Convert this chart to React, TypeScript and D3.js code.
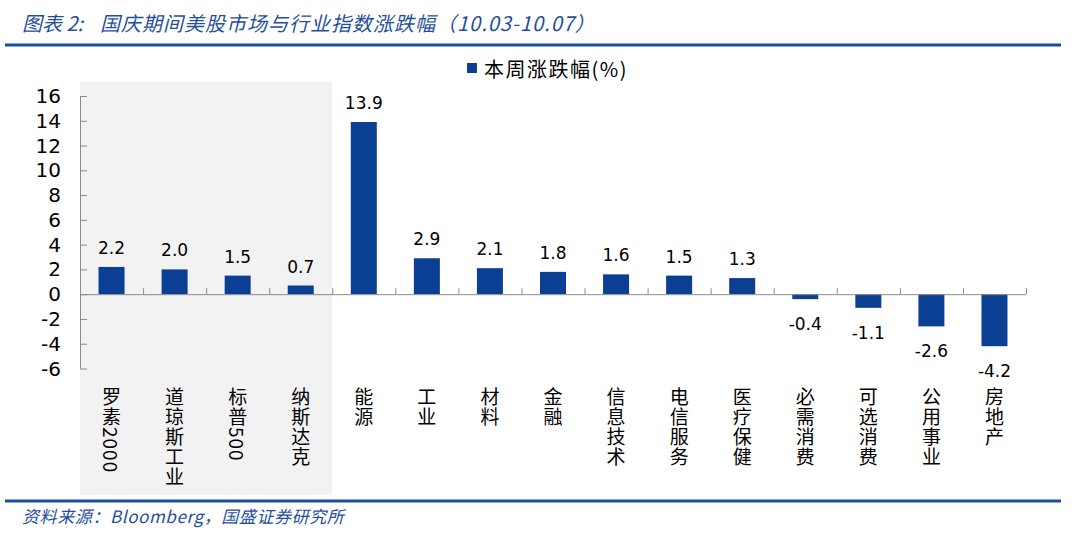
import React from "react";
import * as d3 from "d3";

const categories = ["罗素2000", "道琼斯工业", "标普500", "纳斯达克", "能源", "工业", "材料", "金融", "信息技术", "电信服务", "医疗保健", "必需消费", "可选消费", "公用事业", "房地产"];
const values = [2.2, 2.0, 1.5, 0.7, 13.9, 2.9, 2.1, 1.8, 1.6, 1.5, 1.3, -0.4, -1.1, -2.6, -4.2];
const yTicks = [16, 14, 12, 10, 8, 6, 4, 2, 0, -2, -4, -6];
const shadedCount = 4;
const seriesName = "本周涨跌幅(%)";
const titleHead = "图表 2:";
const titleBody = "国庆期间美股市场与行业指数涨跌幅（10.03-10.07）";
const source = "资料来源：Bloomberg，国盛证券研究所";

const W = 1080, H = 539;
const BLUE = "#0b3f94";
const NUM_FONT = "'DejaVu Sans', Verdana, sans-serif";
const CJK = "'Noto Sans CJK SC', sans-serif";

export default function App() {
  const x = d3.scaleBand<string>().domain(categories).range([80, 1026]).paddingInner(0).paddingOuter(0);
  const y = d3.scaleLinear().domain([-6, 16]).range([368.5, 96]);
  const bw = 26;
  const y0 = y(0);
  const bandStarts = categories.map((c) => x(c)!);
  return (
    <svg width={W} height={H} style={{ position: "absolute", left: 0, top: 0, background: "#fff" }}>
      {/* title */}
      <text x={22} y={31} fontFamily={CJK} fontSize={20} fontStyle="italic" fill="#1f4f9c">{titleHead}</text>
      <text x={100} y={31} fontFamily={CJK} fontSize={20} fontStyle="italic" fill="#1f4f9c" style={{ letterSpacing: "1px" }}>{titleBody}</text>
      <rect x={5} y={43.5} width={1056} height={3} fill="#1a4f9f" />
      {/* shaded area */}
      <rect x={80} y={82} width={x.bandwidth() * shadedCount} height={413} fill="#f2f2f2" />
      {/* legend */}
      <rect x={467} y={63} width={10} height={10} fill={BLUE} />
      <text x={484} y={77} fontFamily={CJK} fontSize={20} fill="#000" style={{ letterSpacing: "1.5px" }}>{seriesName}</text>
      {/* y axis */}
      <line x1={80.5} x2={80.5} y1={y(16)} y2={y(-6)} stroke="#8c8c8c" />
      {yTicks.map((t) => (
        <g key={t}>
          <line x1={80} x2={87} y1={y(t) + 0.5} y2={y(t) + 0.5} stroke="#8c8c8c" />
          <text x={61} y={y(t) + 7} textAnchor="end" fontFamily={NUM_FONT} fontSize={20} fill="#000">{t}</text>
        </g>
      ))}
      {/* bars */}
      {categories.map((c, i) => {
        const v = values[i];
        const cx = x(c)! + x.bandwidth() / 2;
        const top = Math.min(y(v), y0);
        const h = Math.abs(y(v) - y0);
        return (
          <g key={c}>
            <rect x={cx - bw / 2} y={top} width={bw} height={h} fill={BLUE} />
            <text x={cx} y={v >= 0 ? y(v) - 13 : y(v) + 31} textAnchor="middle" fontFamily={NUM_FONT} fontSize={17} fill="#000">{v.toFixed(1)}</text>
          </g>
        );
      })}
      {/* x axis */}
      <line x1={80} x2={1026} y1={y0 + 0.5} y2={y0 + 0.5} stroke="#8c8c8c" />
      {[...bandStarts, 1026].map((bx, i) => (
        <line key={i} x1={bx + 0.5} x2={bx + 0.5} y1={y0 - 6} y2={y0} stroke="#8c8c8c" />
      ))}
      {/* category labels (vertical) */}
      {categories.map((c) => {
        const cx = x(c)! + x.bandwidth() / 2;
        return (
          <text key={c} x={cx} y={387} fontFamily={CJK} fontSize={19} fill="#000"
            style={{ writingMode: "vertical-rl", letterSpacing: "1px" } as any}>{c}</text>
        );
      })}
      {/* footer */}
      <rect x={5} y={499.5} width={1056} height={3} fill="#1a4f9f" />
      <text x={22} y={523} fontFamily={CJK} fontSize={17} fontStyle="italic" fill="#1f4f9c" style={{ letterSpacing: "0.6px" }}>{source}</text>
    </svg>
  );
}
